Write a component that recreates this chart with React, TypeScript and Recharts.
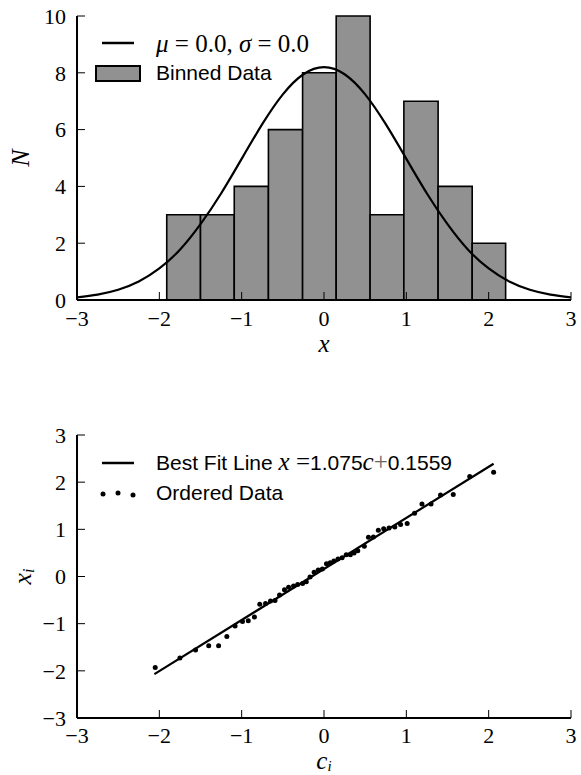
import React from 'react'
import { ComposedChart, Line, Scatter, XAxis, YAxis, ReferenceArea, Label } from 'recharts'

// histogram (top panel)
const binEdges = [-1.91, -1.5, -1.09, -0.675, -0.26, 0.148, 0.56, 0.97, 1.386, 1.8, 2.206]
const binCounts = [3, 3, 4, 6, 8, 10, 3, 7, 4, 2]

// fitted gaussian
const gaussX = [-3, -2.75, -2.5, -2.25, -2, -1.75, -1.5, -1.25, -1, -0.75, -0.5, -0.25, 0, 0.25, 0.5, 0.75, 1, 1.25, 1.5, 1.75, 2, 2.25, 2.5, 2.75, 3]
const gaussN = [0.09, 0.19, 0.36, 0.65, 1.11, 1.77, 2.67, 3.75, 4.97, 6.19, 7.24, 7.95, 8.2, 7.95, 7.24, 6.19, 4.97, 3.75, 2.67, 1.77, 1.11, 0.65, 0.36, 0.19, 0.09]

const histXTicks = [-3, -2, -1, 0, 1, 2, 3]
const histYTicks = [0, 2, 4, 6, 8, 10]

// ordered data vs. normal quantiles (bottom panel)
const orderedC = [-2.05, -1.75, -1.56, -1.4, -1.28, -1.18, -1.08, -0.99, -0.92, -0.845, -0.78, -0.71, -0.65, -0.595, -0.54, -0.48, -0.43, -0.37, -0.32, -0.26, -0.215, -0.17, -0.12, -0.07, -0.02, 0.03, 0.075, 0.12, 0.17, 0.22, 0.27, 0.32, 0.365, 0.41, 0.49, 0.54, 0.6, 0.66, 0.725, 0.79, 0.86, 0.93, 1.01, 1.1, 1.19, 1.3, 1.415, 1.57, 1.77, 2.06]
const orderedX = [-1.93, -1.73, -1.56, -1.47, -1.47, -1.27, -1.05, -0.955, -0.94, -0.86, -0.59, -0.57, -0.52, -0.51, -0.39, -0.28, -0.23, -0.2, -0.17, -0.15, -0.11, -0.01, 0.09, 0.14, 0.16, 0.27, 0.29, 0.33, 0.37, 0.4, 0.46, 0.46, 0.5, 0.545, 0.64, 0.83, 0.835, 0.98, 1.01, 1.03, 1.05, 1.1, 1.125, 1.34, 1.535, 1.535, 1.73, 1.74, 2.12, 2.21]
const fitC = [-2.06, 2.06]
const fitX = [-2.07, 2.39]
const qqTicks = [-3, -2, -1, 0, 1, 2, 3]

const gaussData = gaussX.map((x, i) => ({ x, n: gaussN[i] }))
const orderedData = orderedC.map((c, i) => ({ c, x: orderedX[i] }))
const fitData = fitC.map((c, i) => ({ c, x: fitX[i] }))

const SERIF = '"Liberation Serif", "DejaVu Serif", serif'
const SANS = '"Liberation Sans", Arial, sans-serif'
const GRAY = '#919191'

const tickFont = { fontFamily: SERIF, fontSize: 22, fill: '#000' }
const axisStyle = { stroke: '#000', strokeWidth: 2 }
const tickStyle = { stroke: '#000', strokeWidth: 1 }
const fmt = (v: number) => (v < 0 ? `\u2212${Math.abs(v)}` : String(v))

function xTitle(main: string, sub?: string) {
  return (props: any) => {
    const { x, y, width } = props.viewBox
    return (
      <text x={x + width / 2} y={y + (sub ? 51 : 52)} textAnchor="middle" fontFamily={SERIF} fontStyle="italic" fontSize={25} fill="#000">
        {main}
        {sub && <tspan fontSize={15} dy={2}>{sub}</tspan>}
      </text>
    )
  }
}

function yTitle(main: string, sub?: string) {
  return (props: any) => {
    const { y, height } = props.viewBox
    const cx = sub ? 31 : 29
    const cy = y + height / 2
    return (
      <text x={cx} y={cy} textAnchor="middle" transform={`rotate(-90 ${cx} ${cy})`} fontFamily={SERIF} fontStyle="italic" fontSize={26} fill="#000">
        {main}
        {sub && <tspan fontSize={16} dy={3}>{sub}</tspan>}
      </text>
    )
  }
}

const mathI: React.CSSProperties = { fontFamily: SERIF, fontStyle: 'italic' }
const mathR: React.CSSProperties = { fontFamily: SERIF }

function LegendRow({ top, children }: { top: number; children: React.ReactNode }) {
  return (
    <div style={{ position: 'absolute', left: 156, top: top - 12, height: 24, lineHeight: '24px', fontSize: 21, fontFamily: SANS, whiteSpace: 'nowrap', color: '#000' }}>
      {children}
    </div>
  )
}

export default function App() {
  return (
    <div style={{ position: 'relative', width: 581, height: 775, background: '#fff', overflow: 'hidden' }}>
      <style>{'body{margin:0}'}</style>

      <div style={{ position: 'absolute', left: 0, top: 0 }}>
        <ComposedChart width={581} height={360} data={gaussData} margin={{ top: 16, right: 10, bottom: 8, left: 0 }}>
          <XAxis
            type="number"
            dataKey="x"
            domain={[-3, 3]}
            ticks={histXTicks}
            interval={0}
            allowDataOverflow
            tickFormatter={fmt}
            tick={tickFont}
            tickSize={-8}
            tickMargin={18}
            axisLine={axisStyle}
            tickLine={tickStyle}
            height={52}
          >
            <Label content={xTitle('x')} />
          </XAxis>
          <XAxis xAxisId="top" orientation="top" type="number" domain={[-3, 3]} ticks={histXTicks} interval={0} allowDataOverflow tick={false} tickSize={-8} axisLine={axisStyle} tickLine={tickStyle} height={0} />
          <YAxis
            type="number"
            domain={[0, 10]}
            ticks={histYTicks}
            interval={0}
            allowDataOverflow
            tickFormatter={fmt}
            tick={tickFont}
            tickSize={-8}
            tickMargin={19}
            axisLine={axisStyle}
            tickLine={tickStyle}
            width={77}
          >
            <Label content={yTitle('N')} />
          </YAxis>
          <YAxis yAxisId="right" orientation="right" type="number" domain={[0, 10]} ticks={histYTicks} interval={0} allowDataOverflow tick={false} tickSize={-8} axisLine={axisStyle} tickLine={tickStyle} width={0} />
          {binCounts.map((n, i) => (
            <ReferenceArea
              key={i}
              x1={binEdges[i]}
              x2={binEdges[i + 1]}
              y1={0}
              y2={n}
              fill={GRAY}
              fillOpacity={1}
              stroke="#000"
              strokeWidth={1.6}
              ifOverflow="visible"
            />
          ))}
          <Line type="natural" dataKey="n" stroke="#000" strokeWidth={2.2} dot={false} activeDot={false} isAnimationActive={false} />
        </ComposedChart>
      </div>

      {/* top legend */}
      <svg style={{ position: 'absolute', left: 0, top: 0 }} width={581} height={100}>
        <line x1={102} x2={134} y1={43} y2={43} stroke="#000" strokeWidth={2.5} />
        <rect x={96} y={66} width={44} height={15} fill={GRAY} stroke="#000" strokeWidth={2} />
      </svg>
      <LegendRow top={44}>
        <span style={{ ...mathR, fontSize: 25 }}>
          <i>μ</i> = 0.0, <i>σ</i> = 0.0
        </span>
      </LegendRow>
      <LegendRow top={73}>Binned Data</LegendRow>

      <div style={{ position: 'absolute', left: 0, top: 420 }}>
        <ComposedChart width={581} height={355} margin={{ top: 15, right: 10, bottom: 5, left: 0 }}>
          <XAxis
            type="number"
            dataKey="c"
            domain={[-3, 3]}
            ticks={qqTicks}
            interval={0}
            allowDataOverflow
            tickFormatter={fmt}
            tick={tickFont}
            tickSize={-8}
            tickMargin={17}
            axisLine={axisStyle}
            tickLine={tickStyle}
            height={52}
          >
            <Label content={xTitle('c', 'i')} />
          </XAxis>
          <XAxis xAxisId="top" orientation="top" type="number" domain={[-3, 3]} ticks={qqTicks} interval={0} allowDataOverflow tick={false} tickSize={-8} axisLine={axisStyle} tickLine={tickStyle} height={0} />
          <YAxis
            type="number"
            dataKey="x"
            domain={[-3, 3]}
            ticks={qqTicks}
            interval={0}
            allowDataOverflow
            tickFormatter={fmt}
            tick={tickFont}
            tickSize={-8}
            tickMargin={19}
            axisLine={axisStyle}
            tickLine={tickStyle}
            width={77}
          >
            <Label content={yTitle('x', 'i')} />
          </YAxis>
          <YAxis yAxisId="right" orientation="right" type="number" domain={[-3, 3]} ticks={qqTicks} interval={0} allowDataOverflow tick={false} tickSize={-8} axisLine={axisStyle} tickLine={tickStyle} width={0} />
          <Line data={fitData} type="linear" dataKey="x" stroke="#000" strokeWidth={2.2} dot={false} activeDot={false} isAnimationActive={false} />
          <Scatter
            data={orderedData}
            dataKey="x"
            fill="#000"
            isAnimationActive={false}
            shape={(p: any) => <circle cx={p.cx} cy={p.cy} r={2.5} fill="#000" />}
          />
        </ComposedChart>
      </div>

      {/* bottom legend */}
      <svg style={{ position: 'absolute', left: 0, top: 420 }} width={581} height={100}>
        <line x1={102} x2={134} y1={43} y2={43} stroke="#000" strokeWidth={2.5} />
        <circle cx={103} cy={74} r={2.5} fill="#000" />
        <circle cx={118} cy={73} r={2.5} fill="#000" />
        <circle cx={133} cy={75} r={2.5} fill="#000" />
      </svg>
      <LegendRow top={462}>
        Best Fit Line <span style={{ ...mathI, fontSize: 25 }}>x</span>
        <span style={{ ...mathR, fontSize: 25 }}> =</span>1.075<span style={{ ...mathI, fontSize: 25 }}>c</span>
        <span style={{ ...mathR, fontSize: 25, color: '#666' }}>+</span>0.1559
      </LegendRow>
      <LegendRow top={493}>Ordered Data</LegendRow>
    </div>
  )
}
